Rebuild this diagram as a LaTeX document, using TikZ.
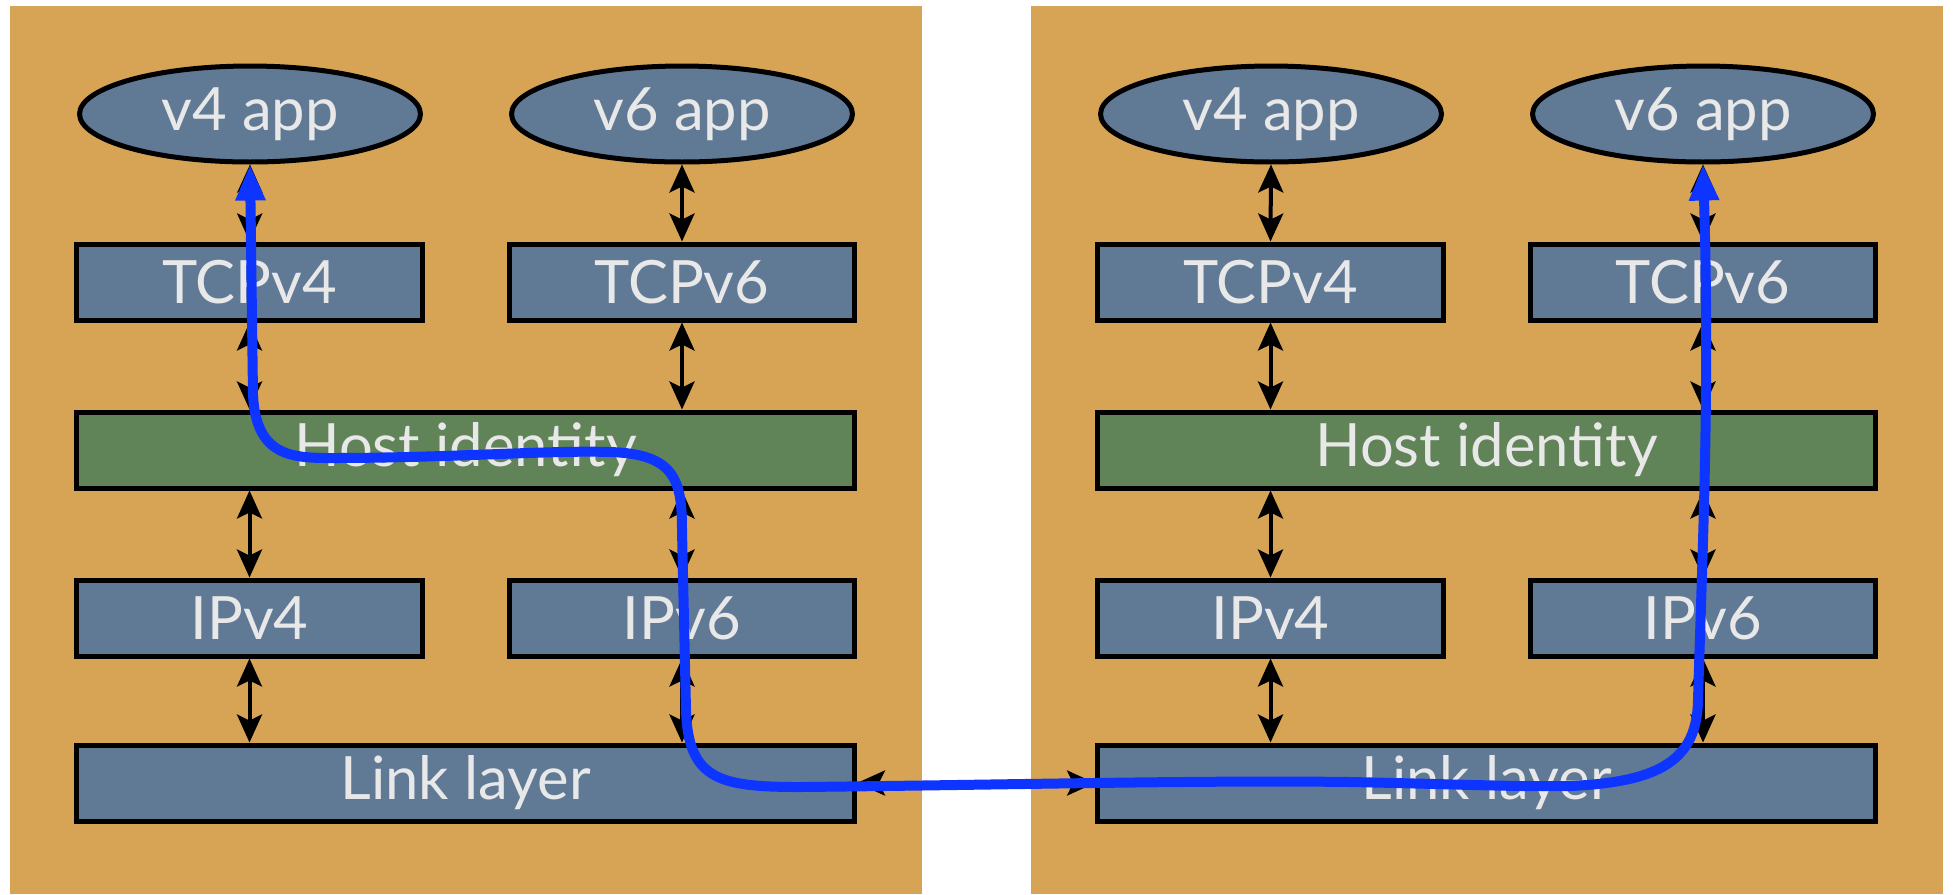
\documentclass[tikz,border=0pt]{standalone}
\usepackage{fontspec}
\setmainfont{Lato}
\usepackage{xcolor}
\usetikzlibrary{arrows.meta, shapes.geometric}

\definecolor{panelbg}{RGB}{214,164,84}
\definecolor{slate}{RGB}{96,122,150}
\definecolor{moss}{RGB}{96,131,88}
\definecolor{labelgray}{RGB}{232,232,232}
\definecolor{route}{RGB}{14,52,255}

\begin{document}
\begin{tikzpicture}[x=0.02cm, y=-0.02cm,
    layer/.style={draw=black, line width=0.1cm, fill=slate, text=labelgray,
      font=\fontsize{34}{40}\selectfont, minimum width=6.92cm, minimum height=1.52cm, inner sep=0pt},
    wide/.style={layer, minimum width=15.56cm},
    app/.style={layer, ellipse, minimum width=6.82cm, minimum height=1.92cm},
    link/.style={{Stealth[length=0.56cm,width=0.5cm,inset=0.12cm]}-{Stealth[length=0.56cm,width=0.5cm,inset=0.12cm]},
      line width=0.08cm, black},
    flow/.style={draw=route, line width=0.2cm, line cap=round, line join=round,
      {Triangle[length=0.72cm,width=0.56cm]}-{Triangle[length=0.72cm,width=0.56cm]}}]
  \useasboundingbox (0,0) rectangle (1953,894);

  % two hosts
  \foreach \p/\dx in {L/0, R/1021} {
    \begin{scope}[shift={(\dx,0)}]
      \fill[panelbg] (10,6) rectangle (922,894);

      \node[app] (app4\p) at (250,114) {v4 app};
      \node[app] (app6\p) at (682,114) {v6 app};
      \node[layer] (tcp4\p) at (249.5,282) {TCPv4};
      \node[layer] (tcp6\p) at (682,282) {TCPv6};
      \node[wide, fill=moss] (host\p) at (465.5,450) {Host identity};
      \node[layer] (ip4\p) at (249.5,618) {IPv4};
      \node[layer] (ip6\p) at (682,618) {IPv6};
      \node[wide] (link\p) at (465.5,783) {Link layer};

      \draw[link] (app4\p.south) -- (tcp4\p.north);
      \draw[link] (app6\p.south) -- (tcp6\p.north);
      \draw[link] (tcp4\p.south) -- (tcp4\p.south |- host\p.north);
      \draw[link] (tcp6\p.south) -- (tcp6\p.south |- host\p.north);
      \draw[link] (ip4\p.north |- host\p.south) -- (ip4\p.north);
      \draw[link] (ip6\p.north |- host\p.south) -- (ip6\p.north);
      \draw[link] (ip4\p.south) -- (ip4\p.south |- link\p.north);
      \draw[link] (ip6\p.south) -- (ip6\p.south |- link\p.north);
    \end{scope}
  }

  % wire between hosts
  \draw[link] (linkL.east) -- (linkR.west);

  % path of the packet
  \draw[flow] (app4L.south) -- (253,395)
    .. controls (256,455) and (290,458) .. (330,458)
    .. controls (450,458) and (550,450) .. (610,452)
    .. controls (675,454) and (682,480) .. (682,530)
    -- (686,710)
    .. controls (688,780) and (720,787) .. (800,787)
    .. controls (1000,785) and (1200,780) .. (1350,782)
    .. controls (1450,784) and (1520,787) .. (1570,786)
    .. controls (1660,782) and (1697,760) .. (1698,700)
    .. controls (1702,560) and (1710,400) .. (app6R.south);
\end{tikzpicture}
\end{document}
